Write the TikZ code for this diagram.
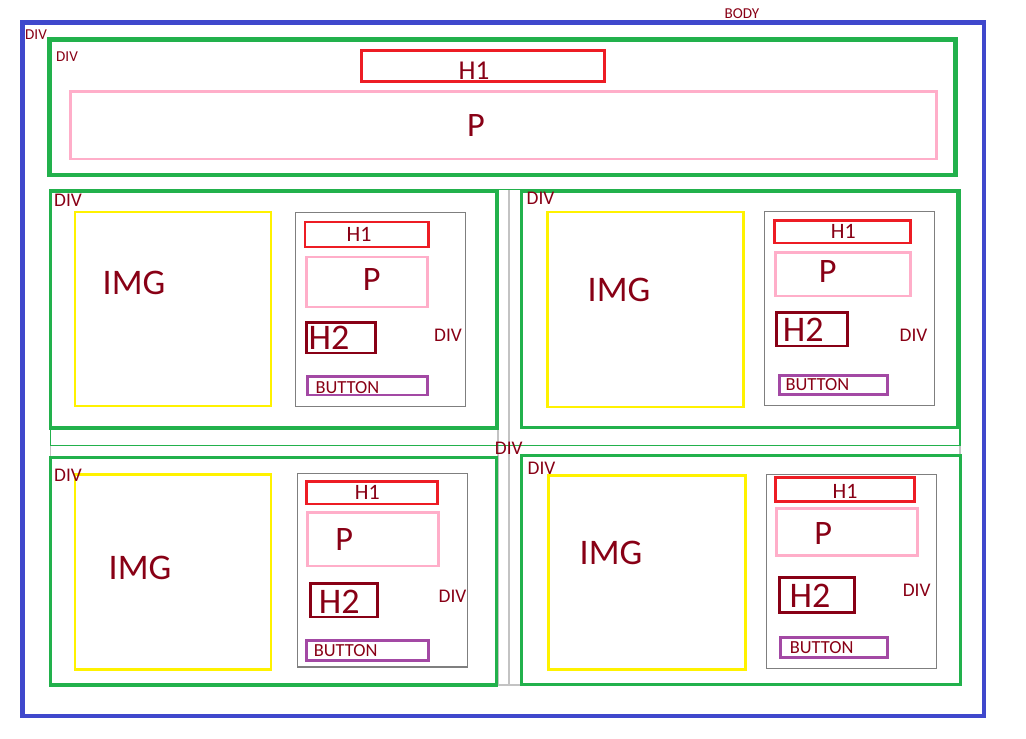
\documentclass[tikz,border=0pt]{standalone}
\usepackage{fontspec}
\setmainfont{Carlito}
\usepackage{xcolor}
\definecolor{bodyblue}{HTML}{3F48CC}
\definecolor{divgreen}{HTML}{22B14C}
\definecolor{hred}{HTML}{ED1C24}
\definecolor{ppink}{HTML}{FFAEC9}
\definecolor{iyellow}{HTML}{FFF200}
\definecolor{hdark}{HTML}{880015}
\definecolor{bpurple}{HTML}{A349A4}
\definecolor{igray}{HTML}{7F7F7F}
\definecolor{sgray}{HTML}{C3C3C3}
\tikzset{box/.style={line width=1.7pt},
 bodybox/.style={draw=bodyblue, line width=2.8pt},
 topdiv/.style={draw=divgreen, line width=2.4pt},
 divbox/.style={draw=divgreen, line width=1.8pt},
 rowbox/.style={draw=divgreen, line width=0.6pt},
 hone/.style={box, draw=hred},
 para/.style={box, draw=ppink},
 imgbox/.style={box, draw=iyellow},
 htwo/.style={box, draw=hdark},
 btn/.style={box, draw=bpurple},
 inner/.style={draw=igray, line width=0.6pt},
 spacer/.style={draw=sgray, line width=0.6pt},
 lbl/.style={text=hdark, inner sep=0pt},
 small/.style={lbl, font=\fontsize{8.6}{10}\selectfont},
 tag/.style={lbl, font=\fontsize{11}{12}\selectfont},
 btntext/.style={lbl, anchor=west, font=\fontsize{10.5}{12}\selectfont},
 honetext/.style={lbl, font=\fontsize{12.5}{14}\selectfont},
 ptext/.style={lbl, font=\fontsize{19.5}{21}\selectfont},
 htwotext/.style={lbl, font=\fontsize{20.5}{22}\selectfont},
 imgtext/.style={lbl, font=\fontsize{20.5}{22}\selectfont},
 }

\begin{document}
\begin{tikzpicture}[x=0.02cm, y=-0.02cm]
        \useasboundingbox (0,0) rectangle (1026,739);

        % body and page div
        \draw[bodybox] (22.5,22.5) rectangle (984,716);
        \node[small] (body) at (742,14) {BODY};
        \node[small] (bodydiv) at (36,34.5) {DIV};

        % header
        \draw[topdiv] (49.5,39.5) rectangle (955.5,175);
        \node[small] (headdiv) at (67,57) {DIV};
        \draw[hone] (361.5,50.5) rectangle (604,81.5);
        \node[lbl, font=\fontsize{15.5}{17}\selectfont] (headh1) at (474,70.5) {H1};
        \draw[para] (70.5,91.5) rectangle (936.5,159);
        \node[ptext] (headp) at (476,126) {P};

        % rows
        \draw[spacer] (50.3,189.5) rectangle (960,685);
        \draw[spacer] (498,189.5) rectangle (509,685);
        \draw[rowbox] (50.3,189.5) rectangle (960,445.3);

        % card 1
        \draw[divbox] (50.5,191) rectangle (497,428);
        \draw[imgbox] (75,212) rectangle (271,406);
        \draw[inner] (295.5,212.3) rectangle (465.3,406.3);
        \draw[hone] (305,222) rectangle (428,247);
        \draw[para] (306.5,257) rectangle (427.5,307);
        \draw[htwo] (306.5,322.5) rectangle (375.5,353);
        \draw[btn] (307.5,376.5) rectangle (427.5,395);
        \node[imgtext] (img1) at (134,283) {IMG};
        \node[honetext] (hone1) at (359,234) {H1};
        \node[ptext] (p1) at (371.7,280) {P};
        \node[htwotext] (htwo1) at (329,338) {H2};
        \node[btntext] (btn1) at (315.2,387.3) {BUTTON};

        % card 2
        \draw[divbox] (521.3,191) rectangle (957.7,427.3);
        \draw[imgbox] (547,212) rectangle (743.7,407);
        \draw[inner] (764.3,211.7) rectangle (934.7,405.3);
        \draw[hone] (774.5,220.5) rectangle (910.5,243);
        \draw[para] (775.5,252.5) rectangle (910.5,296);
        \draw[htwo] (776.5,312.7) rectangle (847.5,346);
        \draw[btn] (779.5,375.5) rectangle (887.5,394.3);
        \node[imgtext] (img2) at (619,290) {IMG};
        \node[honetext] (hone2) at (843.3,231.7) {H1};
        \node[ptext] (p2) at (827.7,271.7) {P};
        \node[htwotext] (htwo2) at (803.3,330) {H2};
        \node[btntext] (btn2) at (785.2,385) {BUTTON};

        % card 3
        \draw[divbox] (50.5,457.5) rectangle (496.5,685);
        \draw[imgbox] (75,474.2) rectangle (271,669);
        \draw[inner] (297.3,473.7) rectangle (467.3,667);
        \draw[hone] (306.5,481.5) rectangle (437.5,504);
        \draw[para] (307.5,512.5) rectangle (438.5,566);
        \draw[htwo] (310.5,583.5) rectangle (377.5,617);
        \draw[btn] (306.5,640.5) rectangle (428.5,660);
        \node[imgtext] (img3) at (140,568) {IMG};
        \node[honetext] (hone3) at (367.3,492.3) {H1};
        \node[ptext] (p3) at (344.3,540) {P};
        \node[htwotext] (htwo3) at (339.3,601.7) {H2};
        \node[btntext] (btn3) at (313.5,651) {BUTTON};

        % card 4
        \draw[divbox] (521.3,455.8) rectangle (960.2,684.7);
        \draw[imgbox] (548.8,475.5) rectangle (745,669.5);
        \draw[inner] (766.3,474.3) rectangle (936.7,668.3);
        \draw[hone] (775.5,477.5) rectangle (914.5,501.5);
        \draw[para] (776.5,508.5) rectangle (917.5,555.5);
        \draw[htwo] (779.5,577.5) rectangle (854.5,612.5);
        \draw[btn] (780.5,637.5) rectangle (887.3,657);
        \node[imgtext] (img4) at (611,553) {IMG};
        \node[honetext] (hone4) at (845,491) {H1};
        \node[ptext] (p4) at (823.3,533.3) {P};
        \node[htwotext] (htwo4) at (810,596) {H2};
        \node[btntext] (btn4) at (789.5,647.7) {BUTTON};

        % div labels
        \foreach \x/\y [count=\i] in {68/200, 448/335.3, 540.5/198, 913.5/335,
            68/475, 452.5/596.7, 541.5/468, 916.7/590.7, 508.8/448.3} {
            \node[tag] (div\i) at (\x,\y) {DIV};
        }
    \end{tikzpicture}
\end{document}
